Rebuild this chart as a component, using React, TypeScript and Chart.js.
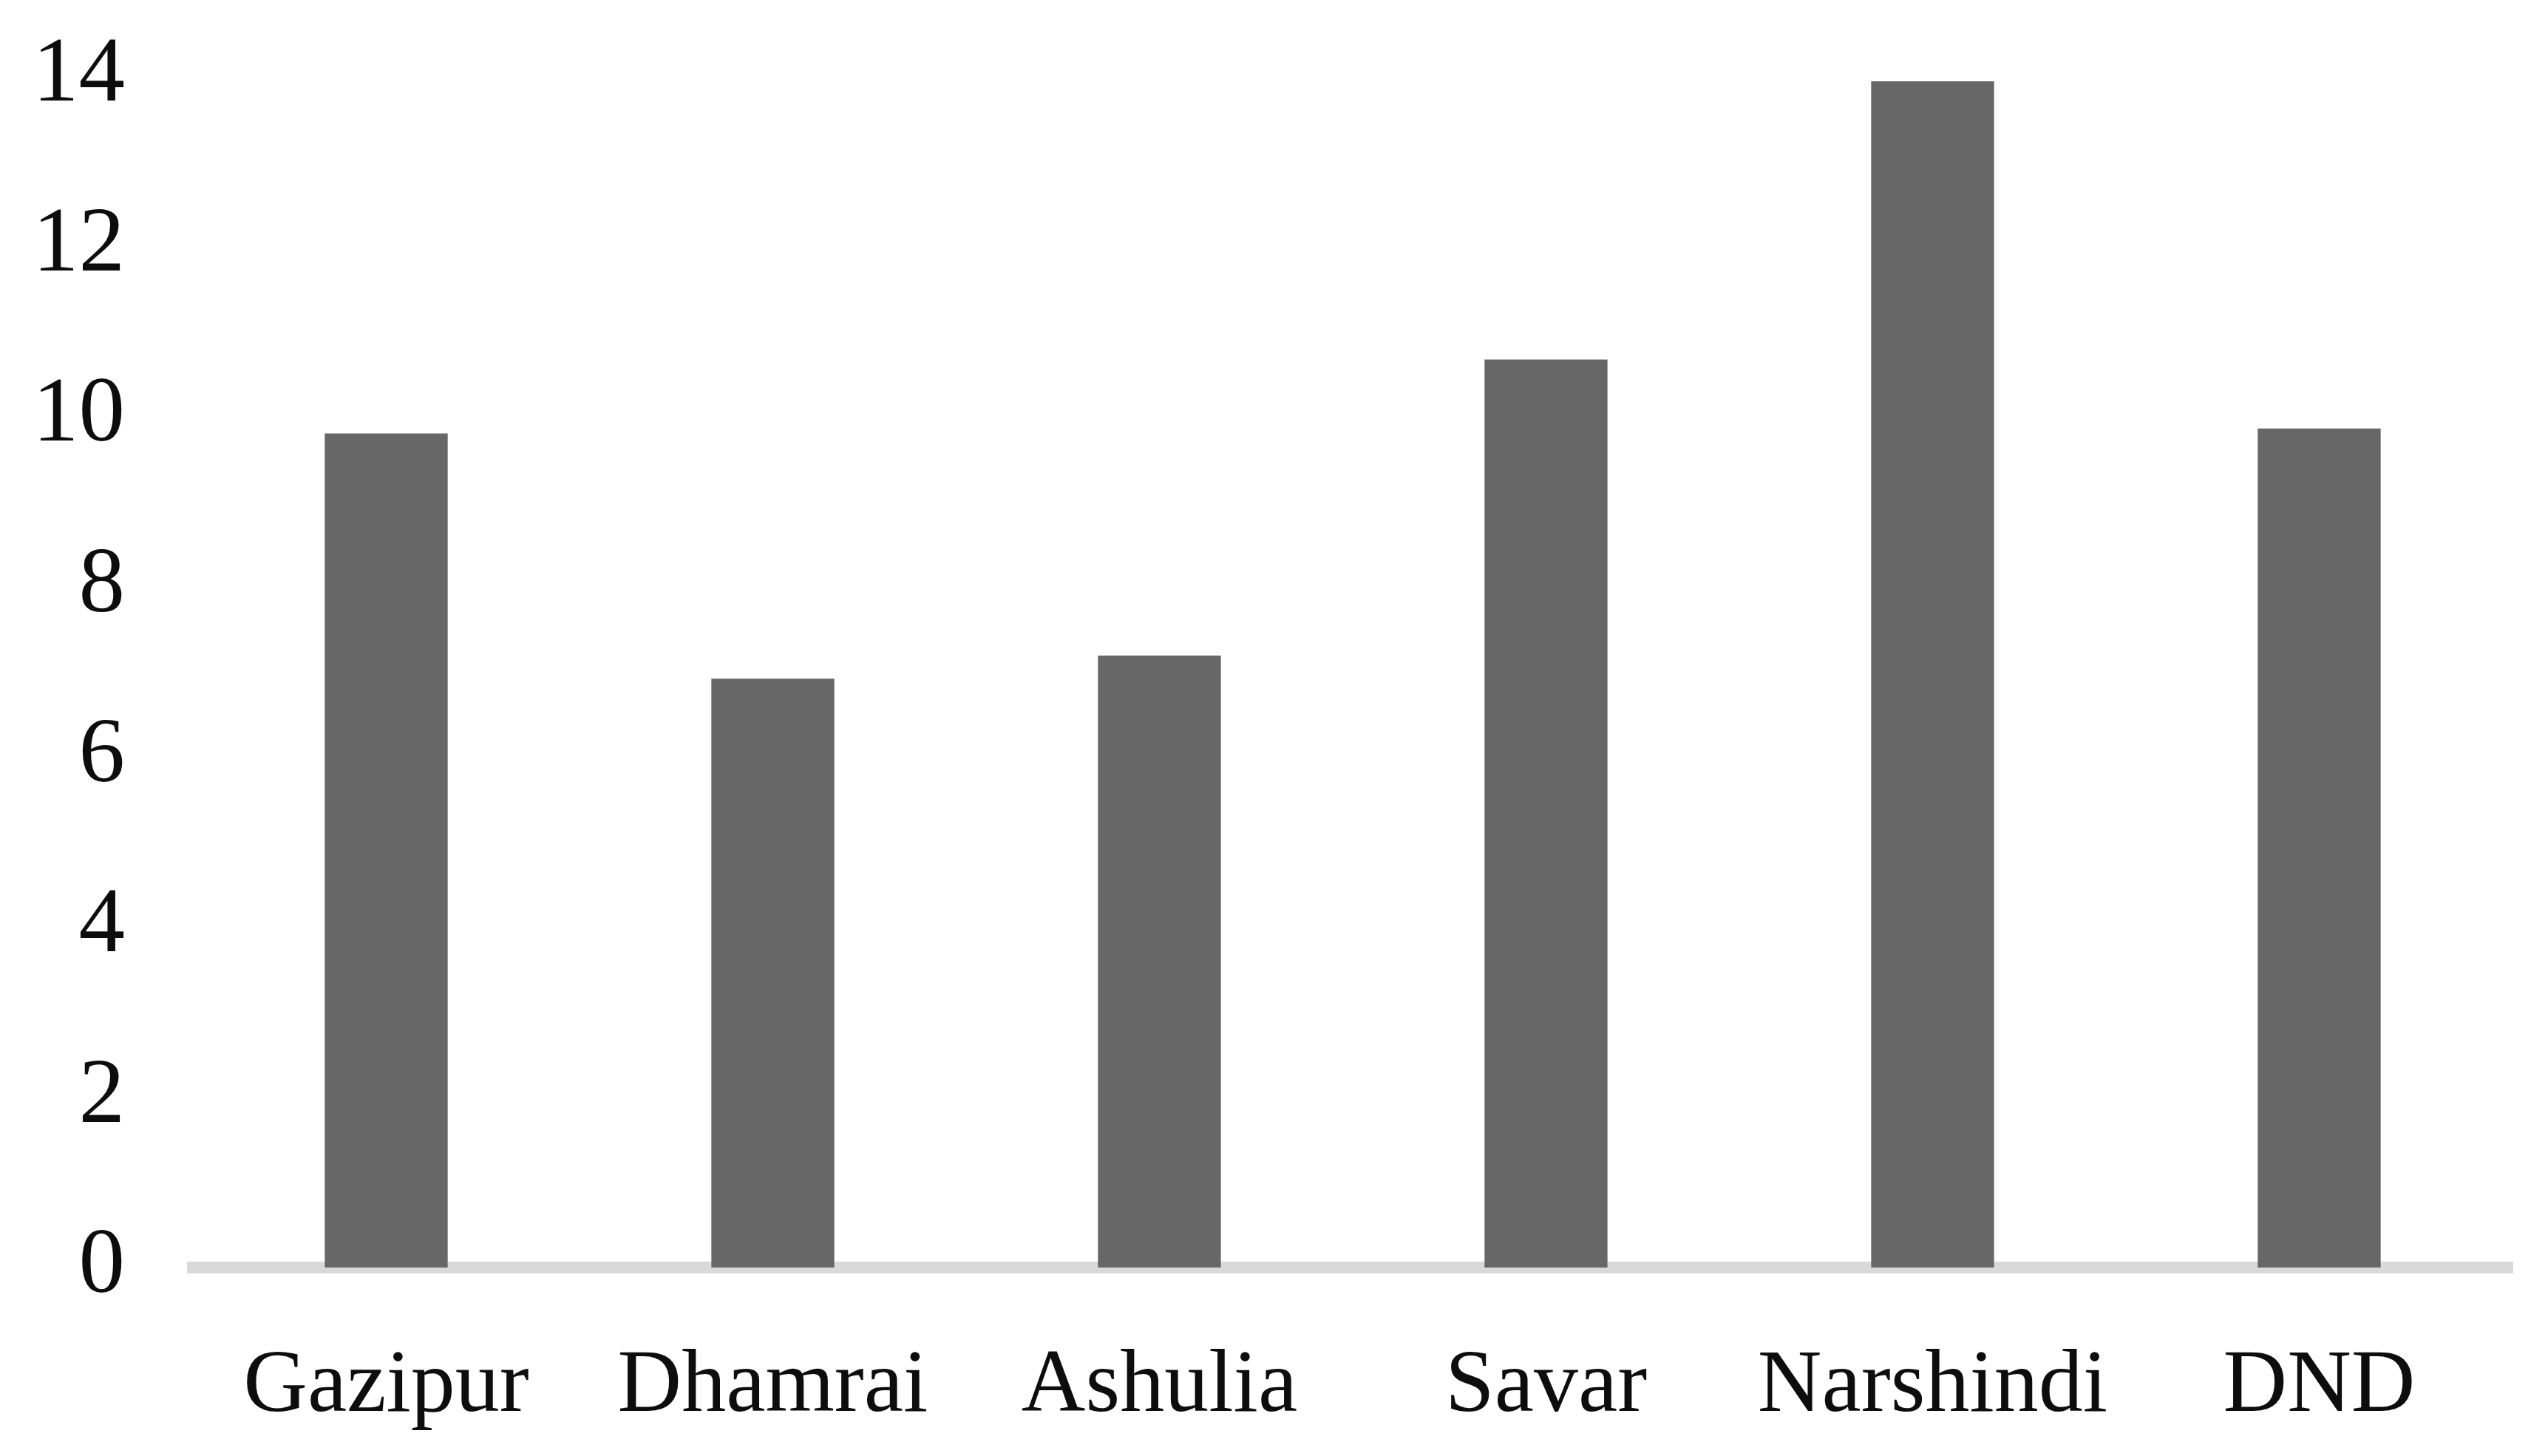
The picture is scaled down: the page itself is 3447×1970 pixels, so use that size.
import React, { useEffect, useRef } from "react";
import { Chart, registerables } from "chart.js";

Chart.register(...registerables);

const categories: string[] = ["Gazipur", "Dhamrai", "Ashulia", "Savar", "Narshindi", "DND"];
const values: number[] = [9.8, 6.92, 7.19, 10.67, 13.94, 9.86];
const yTicks: number[] = [0, 2, 4, 6, 8, 10, 12, 14];

const W = 3447;
const H = 1970;
const FONT = "'Liberation Serif', 'Times New Roman', serif";

export default function App() {
  const ref = useRef<HTMLCanvasElement | null>(null);

  useEffect(() => {
    document.body.style.margin = "0";
    const canvas = ref.current;
    if (!canvas) return;
    const chart = new Chart(canvas, {
      type: "bar",
      data: {
        labels: categories,
        datasets: [
          {
            data: values,
            backgroundColor: "#676767",
            borderWidth: 0,
            categoryPercentage: 1,
            barPercentage: 0.318,
          },
        ],
      },
      options: {
        responsive: false,
        animation: false,
        devicePixelRatio: 1,
        layout: { padding: { top: 103, left: 0, right: 48, bottom: 0 } },
        plugins: {
          legend: { display: false },
          tooltip: { enabled: false },
          title: { display: false },
        },
        scales: {
          x: {
            z: 1,
            offset: true,
            grid: { display: false, drawTicks: false },
            border: { display: true, color: "#d9d9d9", width: 16 },
            ticks: {
              color: "#0d0d0d",
              font: { family: FONT, size: 120 },
              padding: 90,
              maxRotation: 0,
              autoSkip: false,
            },
            afterFit: (s: any) => {
              s.height = H - 1715;
              s.paddingLeft = 0;
              s.paddingRight = 0;
            },
          },
          y: {
            min: 0,
            max: 14,
            grid: { display: false, drawTicks: false },
            border: { display: false },
            afterBuildTicks: (s: any) => {
              s.ticks = yTicks.map((v) => ({ value: v }));
            },
            ticks: {
              color: "#0d0d0d",
              font: { family: FONT, size: 125 },
              padding: 92,
            },
            afterFit: (s: any) => {
              s.width = 261;
              s.paddingTop = 0;
              s.paddingBottom = 0;
            },
          },
        },
      },
    });
    return () => chart.destroy();
  }, []);

  return (
    <div style={{ position: "fixed", left: 0, top: 0, width: W, height: H, background: "#ffffff" }}>
      <canvas ref={ref} width={W} height={H} style={{ width: W, height: H, display: "block" }} />
    </div>
  );
}
